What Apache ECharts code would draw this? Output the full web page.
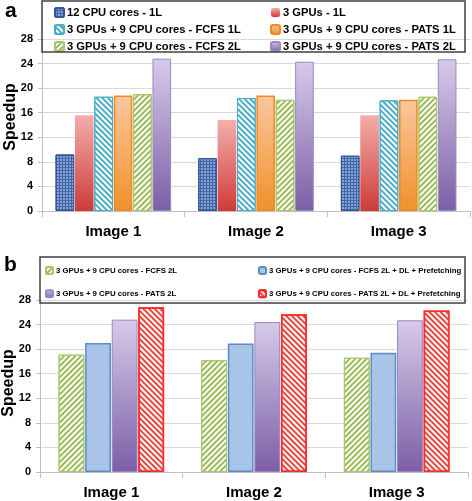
<!DOCTYPE html>
<html><head><meta charset="utf-8">
<script src="https://cdn.jsdelivr.net/npm/echarts@6/dist/echarts.min.js"></script>
<style>html,body{margin:0;padding:0;background:#fff}#c{width:472px;height:501px}</style>
</head><body><div id="c"></div>
<script>
var categories = ['Image 1', 'Image 2', 'Image 3'];
var yTicks = [0, 4, 8, 12, 16, 20, 24, 28];
// chart a
var aCpu12 = [9.2, 8.6, 9.0];
var aGpu3 = [15.6, 14.8, 15.6];
var aFcfs1 = [18.6, 18.4, 18.0];
var aPats1 = [18.8, 18.8, 18.1];
var aFcfs2 = [19.0, 18.1, 18.6];
var aPats2 = [24.8, 24.3, 24.7];
// chart b
var bFcfs2 = [19.1, 18.2, 18.6];
var bFcfs2Dl = [21.0, 20.9, 19.4];
var bPats2 = [24.8, 24.4, 24.7];
var bPats2Dl = [26.8, 25.7, 26.3];

var N = {
  cpu12: '12 CPU cores - 1L', gpu3: '3 GPUs - 1L',
  fcfs1: '3 GPUs + 9 CPU cores - FCFS 1L', pats1: '3 GPUs + 9 CPU cores - PATS 1L',
  fcfs2: '3 GPUs + 9 CPU cores - FCFS 2L', pats2: '3 GPUs + 9 CPU cores - PATS 2L',
  fcfs2dl: '3 GPUs + 9 CPU cores - FCFS 2L + DL + Prefetching',
  pats2dl: '3 GPUs + 9 CPU cores - PATS 2L + DL + Prefetching'
};
function grad(top, bot) {
  return {type: 'linear', x: 0, y: 0, x2: 0, y2: 1, colorStops: [{offset: 0, color: top}, {offset: 1, color: bot}]};
}
function stripes(c, rot) {
  return {symbol: 'rect', dashArrayX: [1, 0], dashArrayY: [2, 2], rotation: rot, color: c};
}
var FONT = 'Liberation Sans';
var sCpu12 = {color: '#3f66ad', borderColor: '#2f5597', borderWidth: 1,
  decal: {symbol: 'rect', symbolSize: 0.7, dashArrayX: [2, 1], dashArrayY: [2, 1], color: 'rgba(255,255,255,0.75)'}};
var sGpu3 = {color: grad('#f4aeab', '#cd3b38')};
var sFcfs1 = {color: '#ffffff', borderColor: '#4bacc6', borderWidth: 1, decal: stripes('#4bacc6', Math.PI / 4)};
var sPats1 = {color: grad('#fbc79f', '#f0902a'), borderColor: '#f08a1e', borderWidth: 1.5};
var sFcfs2 = {color: '#ffffff', borderColor: '#a9c86c', borderWidth: 1, decal: stripes('#9bbb59', -Math.PI / 4)};
var sPats2 = {color: grad('#d6cbea', '#7c5ea6'), borderColor: '#9a86c0', borderWidth: 1};
var sFcfs2Dl = {color: '#a8c5e7', borderColor: '#5a8dc8', borderWidth: 1.5};
var sPats2Dl = {color: '#ffffff', borderColor: '#ff2a2a', borderWidth: 1.5, decal: stripes('#e8463f', Math.PI / 4)};

function bar(name, data, style, idx, gap, cgap) {
  return {type: 'bar', name: name, data: data, xAxisIndex: idx, yAxisIndex: idx, itemStyle: style,
    barGap: gap, barCategoryGap: cgap, emphasis: {disabled: true}};
}
function xAx(idx) {
  return {type: 'category', gridIndex: idx, data: categories,
    axisLine: {lineStyle: {color: '#bfbfbf', width: 1}},
    axisTick: {show: true, length: 6, lineStyle: {color: '#bfbfbf'}},
    axisLabel: {margin: 13, fontSize: 15, fontWeight: 'bold', color: '#000', fontFamily: FONT}};
}
function yAx(idx, pad) {
  return {type: 'value', gridIndex: idx, min: yTicks[0], max: yTicks[yTicks.length - 1], interval: yTicks[1] - yTicks[0],
    name: 'Speedup', nameLocation: 'middle', nameGap: 23, nameRotate: 90, nameMoveOverlap: false,
    nameTextStyle: {fontSize: 16, fontWeight: 'bold', color: '#000', fontFamily: FONT, padding: pad},
    axisLine: {show: true, lineStyle: {color: '#bfbfbf'}},
    axisTick: {show: true, length: 4, lineStyle: {color: '#bfbfbf'}},
    splitLine: {lineStyle: {color: '#d9d9d9'}},
    axisLabel: {margin: 9, fontSize: 11, fontWeight: 'bold', color: '#000', fontFamily: FONT}};
}
function leg(data, left, top, gap, fs, isz) {
  return {data: data, orient: 'vertical', left: left, top: top, padding: 0, itemGap: gap,
    itemWidth: isz, itemHeight: isz, selectedMode: false,
    textStyle: {fontSize: fs, fontWeight: 'bold', color: '#000', fontFamily: FONT, padding: [0, 0, 0, -2]}};
}

var chart = echarts.init(document.getElementById('c'), null, {renderer: 'canvas'});
chart.setOption({
  animation: false,
  grid: [
    {left: 42, right: 2, top: 39, bottom: 290, containLabel: false, outerBoundsMode: 'none'},
    {left: 40, right: 4, top: 300, bottom: 29, containLabel: false, outerBoundsMode: 'none'}
  ],
  xAxis: [xAx(0), xAx(1)],
  yAxis: [yAx(0, [0, 0, 0, 16]), yAx(1, [0, 0, 0, 6])],
  legend: [
    leg([N.cpu12, N.fcfs1, N.fcfs2], 54, 7, 6, 11.2, 9),
    leg([N.gpu3, N.pats1, N.pats2], 270, 7, 6, 11.2, 9),
    leg([N.fcfs2, N.pats2], 45, 266, 14.2, 7.8, 7),
    leg([N.fcfs2dl, N.pats2dl], 258, 266, 14.2, 7.8, 7)
  ],
  graphic: [
    {type: 'rect', shape: {x: 42, y: 1, width: 423, height: 51}, style: {fill: 'rgba(0,0,0,0)', stroke: '#404040', lineWidth: 1.5}, z: 10},
    {type: 'rect', shape: {x: 40, y: 257, width: 425, height: 46}, style: {fill: 'rgba(0,0,0,0)', stroke: '#404040', lineWidth: 1.5}, z: 10},
    {type: 'text', left: 5, top: 1, style: {text: 'a', font: 'bold 21px "Liberation Sans"', fill: '#000'}},
    {type: 'text', left: 4, top: 255, style: {text: 'b', font: 'bold 21px "Liberation Sans"', fill: '#000'}}
  ],
  series: [
    bar(N.cpu12, aCpu12, sCpu12, 0, '4%', '19%'),
    bar(N.gpu3, aGpu3, sGpu3, 0, '4%', '19%'),
    bar(N.fcfs1, aFcfs1, sFcfs1, 0, '4%', '19%'),
    bar(N.pats1, aPats1, sPats1, 0, '4%', '19%'),
    bar(N.fcfs2, aFcfs2, sFcfs2, 0, '4%', '19%'),
    bar(N.pats2, aPats2, sPats2, 0, '4%', '19%'),
    bar(N.fcfs2, bFcfs2, sFcfs2, 1, '3%', '26%'),
    bar(N.fcfs2dl, bFcfs2Dl, sFcfs2Dl, 1, '3%', '26%'),
    bar(N.pats2, bPats2, sPats2, 1, '3%', '26%'),
    bar(N.pats2dl, bPats2Dl, sPats2Dl, 1, '3%', '26%')
  ]
});
</script></body></html>
